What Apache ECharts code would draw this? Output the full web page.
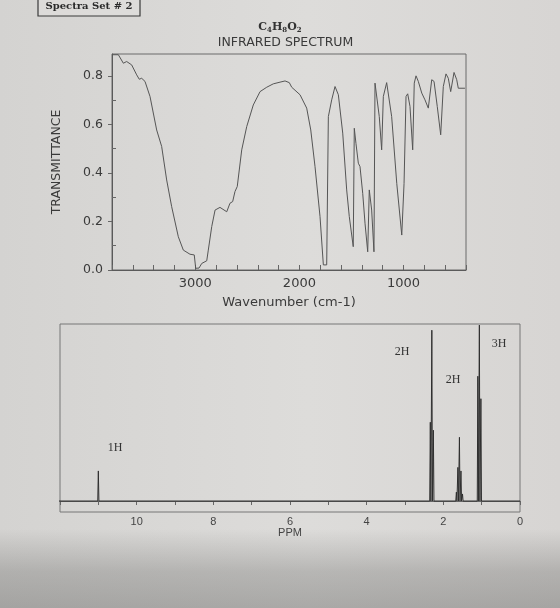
<!DOCTYPE html>
<html>
<head>
<meta charset="utf-8">
<script src="https://cdn.jsdelivr.net/npm/echarts@6/dist/echarts.min.js"></script>
<style>
  html, body { margin: 0; padding: 0; }
  body {
    width: 560px; height: 608px; overflow: hidden;
    background:
      linear-gradient(to bottom, rgba(0,0,0,0) 87%, rgba(70,70,68,0.25) 94%, rgba(70,70,68,0.34) 100%),
      linear-gradient(to right, #d4d3d1 0%, #dddcda 55%, #d7d5d3 100%);
  }
  #chart { width: 560px; height: 608px; }
</style>
</head>
<body>
<div id="chart"></div>
<script>
// IR spectrum
const irWavenumber = [3797, 3739, 3691, 3659, 3611, 3563, 3538, 3515, 3483, 3435, 3371, 3323, 3275, 3227,
  3163, 3115, 3051, 3010, 2996, 2964, 2938, 2890, 2875, 2842, 2810, 2763, 2698, 2667, 2641, 2619, 2597,
  2554, 2506, 2443, 2378, 2314, 2251, 2186, 2138, 2097, 2074, 1994, 1930, 1891, 1850, 1802, 1770, 1738,
  1722, 1690, 1658, 1626, 1584, 1546, 1521, 1483, 1473, 1457, 1434, 1418, 1392, 1370, 1344, 1329, 1306,
  1284, 1274, 1264, 1233, 1210, 1194, 1162, 1114, 1065, 1017, 995, 976, 960, 938, 912, 897, 880, 858,
  825, 794, 762, 729, 707, 676, 643, 618, 592, 570, 547, 515, 489, 474, 410];
const irTransmittance = [0.887, 0.887, 0.852, 0.859, 0.845, 0.804, 0.786, 0.79, 0.777, 0.715, 0.577, 0.509,
  0.371, 0.261, 0.137, 0.082, 0.065, 0.062, 0.007, 0.008, 0.027, 0.038, 0.082, 0.179, 0.247, 0.258, 0.24,
  0.275, 0.282, 0.323, 0.344, 0.495, 0.591, 0.68, 0.735, 0.753, 0.767, 0.774, 0.779, 0.772, 0.753, 0.722,
  0.667, 0.577, 0.426, 0.22, 0.021, 0.021, 0.632, 0.701, 0.756, 0.722, 0.564, 0.33, 0.22, 0.096, 0.584,
  0.522, 0.44, 0.426, 0.316, 0.193, 0.075, 0.33, 0.247, 0.075, 0.77, 0.774, 0.632, 0.495, 0.715, 0.772,
  0.632, 0.357, 0.144, 0.357, 0.715, 0.726, 0.674, 0.495, 0.77, 0.8, 0.777, 0.729, 0.701, 0.667, 0.784,
  0.777, 0.674, 0.557, 0.756, 0.808, 0.79, 0.735, 0.814, 0.784, 0.749, 0.749];
const irTickWn = [3800, 3600, 3400, 3200, 3000, 2800, 2600, 2400, 2200, 2000, 1800, 1600, 1400, 1200, 1000, 800, 600, 400];
const irLabelWn = [3000, 2000, 1000];
const irLabelT = [0, 0.2, 0.4, 0.6, 0.8];
const irMinorT = [0.1, 0.3, 0.5, 0.7];

// 1H NMR lines (ppm, relative height)
const nmrPpm = [11.0, 2.34, 2.30, 2.26, 1.66, 1.62, 1.58, 1.54, 1.50, 1.10, 1.06, 1.02];
const nmrHeight = [17, 44.5, 96.5, 40, 5, 19, 36, 17, 4, 70.5, 99.4, 57.8];
const nmrLabels = ['1H', '2H', '2H', '3H'];
const nmrLabelPos = [[115, 448], [402, 352], [453, 380], [499, 344]];

// spikes on a flat baseline
const nmrData = [[12.18, 0]];
nmrPpm.forEach((p, i) => {
  nmrData.push([p + 0.015, 0], [p, nmrHeight[i]], [p - 0.015, 0]);
});
nmrData.push([0, 0]);

const irData = irWavenumber.map((w, i) => [w, irTransmittance[i]]);

const sans = 'DejaVu Sans';
const chart = echarts.init(document.getElementById('chart'));

const option = {
  backgroundColor: 'transparent',
  animation: false,
  grid: [
    { left: 112, right: 94, top: 54, bottom: 338, show: true, borderColor: '#6a6a6a', borderWidth: 1 },
    { left: 60, right: 40, top: 324, bottom: 96, show: true, borderColor: '#777', borderWidth: 1 }
  ],
  xAxis: [
    {
      gridIndex: 0, type: 'value', min: 400, max: 3800, inverse: true,
      name: 'Wavenumber (cm-1)', nameLocation: 'middle', nameGap: 26,
      nameTextStyle: { fontFamily: sans, fontSize: 13, color: '#3a3a3a' },
      axisLine: { lineStyle: { color: '#5a5a5a' } },
      axisTick: { inside: true, length: 5, customValues: irTickWn, lineStyle: { color: '#666' } },
      axisLabel: {
        customValues: irLabelWn, fontFamily: sans, fontSize: 13, color: '#3a3a3a', margin: 7,
        formatter: v => String(v)
      },
      splitLine: { show: false }
    },
    {
      gridIndex: 1, type: 'value', min: 0, max: 12, interval: 1, inverse: true,
      name: 'PPM', nameLocation: 'middle', nameGap: 14,
      nameTextStyle: { fontFamily: 'Liberation Sans', fontSize: 11, color: '#444' },
      axisLine: { lineStyle: { color: '#666' } },
      axisTick: { inside: false, length: 4, lineStyle: { color: '#666' } },
      axisLabel: {
        fontFamily: 'Liberation Sans', fontSize: 11, color: '#444', margin: 4,
        formatter: v => (v % 2 === 0 && v < 12 ? String(v) : '')
      },
      splitLine: { show: false }
    }
  ],
  yAxis: [
    {
      gridIndex: 0, type: 'value', min: 0, max: 0.89,
      name: 'TRANSMITTANCE', nameLocation: 'middle', nameGap: 49,
      nameTextStyle: { fontFamily: sans, fontSize: 12.5, color: '#3a3a3a' },
      axisLine: { show: true, lineStyle: { color: '#5a5a5a' } },
      axisTick: { show: true, length: 4, customValues: irLabelT, lineStyle: { color: '#666' } },
      axisLabel: {
        customValues: irLabelT, fontFamily: sans, fontSize: 12.5, color: '#3a3a3a', margin: 9,
        formatter: v => v.toFixed(1)
      },
      splitLine: { show: false }
    },
    {
      gridIndex: 0, type: 'value', min: 0, max: 0.89, position: 'left',
      axisLine: { show: false },
      axisTick: { show: true, inside: true, length: 4, customValues: irMinorT, lineStyle: { color: '#666' } },
      axisLabel: { show: false },
      splitLine: { show: false }
    },
    { gridIndex: 1, type: 'value', min: -6.2, max: 100, show: false, splitLine: { show: false } }
  ],
  series: [
    {
      type: 'line', xAxisIndex: 0, yAxisIndex: 0, data: irData,
      symbol: 'none', lineStyle: { color: '#555', width: 1 }
    },
    {
      type: 'line', xAxisIndex: 1, yAxisIndex: 2, data: nmrData, clip: false,
      symbol: 'none', lineStyle: { color: '#2e2e2e', width: 1 }
    }
  ],
  graphic: [
    {
      type: 'rect', shape: { x: 38, y: -4, width: 102, height: 20 },
      style: { fill: 'rgba(225,224,222,0.6)', stroke: '#3a3a3a', lineWidth: 1.2 }
    },
    {
      type: 'text', x: 89, y: 6,
      style: { text: 'Spectra Set # 2', font: 'bold 10px "DejaVu Serif"', fill: '#2a2a2a', align: 'center', verticalAlign: 'middle' }
    },
    {
      type: 'text', x: 280, y: 27,
      style: {
        text: '{a|C}{s|4}{a|H}{s|8}{a|O}{s|2}', align: 'center', verticalAlign: 'middle',
        rich: {
          a: { fontFamily: 'DejaVu Serif', fontWeight: 'bold', fontSize: 11, lineHeight: 13, fill: '#333' },
          s: { fontFamily: 'DejaVu Serif', fontWeight: 'bold', fontSize: 7, lineHeight: 4, verticalAlign: 'bottom', fill: '#333' }
        }
      }
    },
    {
      type: 'text', x: 285.5, y: 43,
      style: { text: 'INFRARED SPECTRUM', font: '12.5px "DejaVu Sans"', fill: '#3a3a3a', align: 'center', verticalAlign: 'middle' }
    }
  ].concat(nmrLabels.map((t, i) => ({
    type: 'text', x: nmrLabelPos[i][0], y: nmrLabelPos[i][1],
    style: { text: t, font: '12px "Liberation Serif"', fill: '#333', align: 'center', verticalAlign: 'middle' }
  })))
};

chart.setOption(option);
</script>
</body>
</html>
